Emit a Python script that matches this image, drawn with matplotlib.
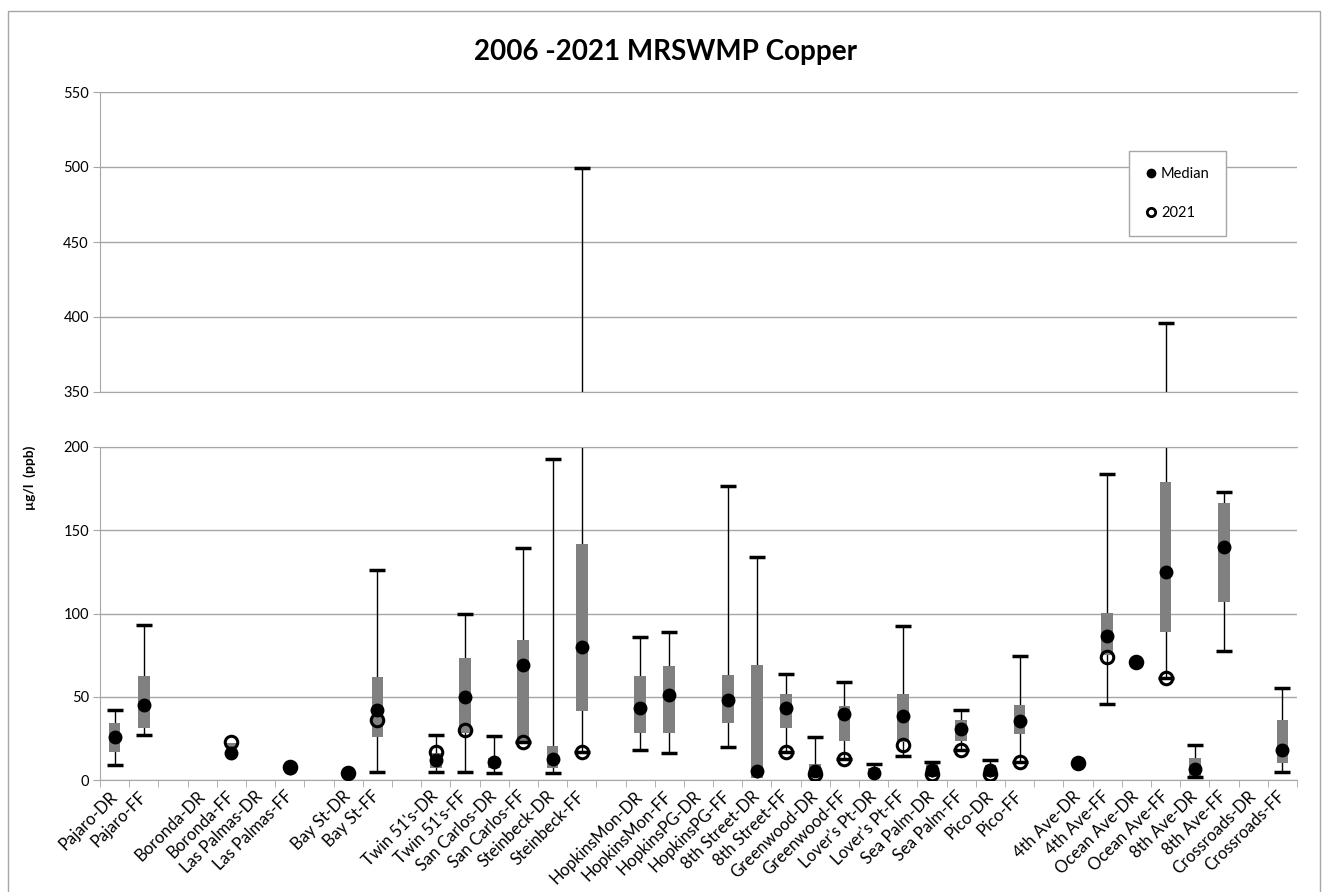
import numpy as np
import matplotlib
matplotlib.use("Agg")
from matplotlib import pyplot as plt
from matplotlib.lines import Line2D
from matplotlib.patches import Rectangle

plt.rcParams['font.family'] = ['Lato', 'DejaVu Sans']

nan = np.nan

# categories ('' = empty spacer slot)
sites = ["Pajaro-DR", "Pajaro-FF", "", "Boronda-DR", "Boronda-FF", "Las Palmas-DR",
         "Las Palmas-FF", "", "Bay St-DR", "Bay St-FF", "", "Twin 51's-DR", "Twin 51's-FF",
         "San Carlos-DR", "San Carlos-FF", "Steinbeck-DR", "Steinbeck-FF", "",
         "HopkinsMon-DR", "HopkinsMon-FF", "HopkinsPG-DR", "HopkinsPG-FF", "8th Street-DR",
         "8th Street-FF", "Greenwood-DR", "Greenwood-FF", "Lover's Pt-DR", "Lover's Pt-FF",
         "Sea Palm-DR", "Sea Palm-FF", "Pico-DR", "Pico-FF", "", "4th Ave-DR", "4th Ave-FF",
         "Ocean Ave-DR", "Ocean Ave-FF", "8th Ave-DR", "8th Ave-FF", "Crossroads-DR",
         "Crossroads-FF"]

low = [8.8, 27, nan, nan, nan, nan, nan, nan, nan, 5, nan, 5, 5, 4.2, 22.6, 4.2, 16.8, nan,
       18.2, 16, nan, 19.8, nan, 16.6, nan, 12.6, nan, 14.2, nan, 17.8, nan, 10.8, nan,
       nan, 45.8, nan, 61.2, 1.6, 77.4, nan, 5]
q1 = [16.8, 31, nan, nan, 16, nan, 6.5, nan, 3.8, 25.8, nan, 7, 28, 7, 23, 7, 41.6, nan,
      28.2, 28.2, nan, 34.2, 1.5, 31.2, 2, 23.2, 2, 23, 2, 23.2, 2, 27.8, nan,
      nan, 75, nan, 88.8, 2.5, 107.2, nan, 10.2]
median = [25.8, 44.8, nan, nan, 16.5, nan, 7.2, nan, 4.2, 41.8, nan, 11.8, 49.6, 10.6, 69,
          12.6, 80, nan, 43.2, 50.8, nan, 47.8, 5.2, 43.2, 5.5, 39.8, 4.2, 38.2, 6, 30.6,
          6, 35.2, nan, 10.2, 86.2, 70.6, 125, 6.8, 139.8, nan, 17.8]
q3 = [34.2, 62.2, nan, nan, 22, nan, 8, nan, 4.6, 61.6, nan, 16, 73.2, 13.2, 84.2, 20.2,
      141.6, nan, 62.2, 68.6, nan, 63.2, 69.2, 51.8, 9.8, 44.2, 7.2, 51.8, 9.5, 36.2,
      9, 44.8, nan, nan, 100.6, nan, 179.2, 13.2, 166.2, nan, 36.2]
high = [41.8, 93, nan, nan, nan, nan, nan, nan, nan, 126.2, nan, 27, 99.4, 26.2, 139.4,
        192.8, 499, nan, 85.8, 89, nan, 176.6, 133.8, 63.6, 25.6, 58.6, 9.8, 92.2, 11,
        42.2, 11.8, 74.6, nan, nan, 183.6, nan, 396, 20.8, 172.8, nan, 55.2]
y2021 = [nan, nan, nan, nan, 22.6, nan, 7.8, nan, 4.2, 35.8, nan, 16.8, 29.8, nan, 22.6,
         nan, 16.8, nan, nan, nan, nan, nan, nan, 16.6, 3.6, 12.6, nan, 21.2, 3.6, 17.8,
         3.6, 10.8, nan, 10.2, 73.8, 70.6, 61.2, nan, nan, nan, nan]

W, H = 1328, 892
fig = plt.figure(figsize=(W / 100, H / 100), dpi=100)


def px_box(l, t, r, b):
    return [l / W, 1 - b / H, (r - l) / W, (b - t) / H]


ax_top = fig.add_axes(px_box(100, 92, 1297, 392))
ax_bot = fig.add_axes(px_box(100, 447, 1297, 780))

x = np.arange(len(sites))
low = np.array(low)
q1 = np.array(q1)
q3 = np.array(q3)
high = np.array(high)
whisk_lo = np.where(np.isnan(low), q1, low)
grid_c = '#a6a6a6'

for ax in (ax_top, ax_bot):
    ax.vlines(x, whisk_lo, high, color='black', lw=1, zorder=2)
    ax.bar(x, q3 - q1, bottom=q1, width=0.4, color='#808080', zorder=3)
    ax.plot(x, high, ls='none', marker='_', ms=11, mew=2.5, color='black', zorder=4)
    ax.plot(x, low, ls='none', marker='_', ms=11, mew=2.5, color='black', zorder=4)
    ax.plot(x, median, ls='none', marker='o', ms=9, color='black', zorder=5)
    ax.plot(x, y2021, ls='none', marker='o', ms=9, mfc='none', mec='black', mew=2.2, zorder=6)
    ax.set_xlim(-0.5, len(sites) - 0.5)
    ax.set_axisbelow(True)
    ax.yaxis.grid(True, color=grid_c, lw=1)
    for side in ('left', 'bottom', 'top'):
        ax.spines[side].set_color(grid_c)
    ax.spines['right'].set_visible(False)
    ax.tick_params(axis='y', length=5, color=grid_c, labelsize=10.5, pad=3)

ax_top.set_ylim(350, 550)
ax_top.set_yticks(np.arange(350, 551, 50))
ax_top.set_xticks([])

ax_bot.set_ylim(0, 200)
ax_bot.set_yticks(np.arange(0, 201, 50))
ax_bot.set_xticks(x)
ax_bot.set_xticklabels(sites, rotation=45, ha='right', va='center', rotation_mode='anchor',
                       fontsize=12)
ax_bot.tick_params(axis='x', which='major', length=0, pad=10)
ax_bot.set_xticks(np.arange(-0.5, len(sites), 1), minor=True)
ax_bot.tick_params(axis='x', which='minor', length=5, color=grid_c)

handles = [Line2D([], [], ls='none', marker='o', ms=6, color='black'),
           Line2D([], [], ls='none', marker='o', ms=6, mfc='none', mec='black', mew=2)]
leg = ax_top.legend(handles, ['Median', '2021'], loc='upper left',
                    bbox_to_anchor=(1129 / W, 1 - 151 / H), bbox_transform=fig.transFigure,
                    fancybox=False, edgecolor=grid_c, framealpha=1, fontsize=10.5,
                    labelspacing=1.7, handlelength=0.8, handletextpad=0.3, borderpad=1.1,
                    borderaxespad=0)
leg.get_frame().set_linewidth(1)

fig.patches.append(Rectangle((8 / W, -0.01), (1320 - 8) / W, (H - 11) / H + 0.01,
                             transform=fig.transFigure, fill=False, edgecolor=grid_c, lw=1))

fig.text(665 / W, 1 - 52 / H, '2006 -2021 MRSWMP Copper', ha='center', va='center',
         fontsize=20, fontweight='bold')
fig.text(30 / W, 1 - 478 / H, 'µg/l  (ppb)', rotation=90, ha='center', va='center',
         fontsize=10, fontweight='bold')

fig.savefig('out.png', dpi=100)
